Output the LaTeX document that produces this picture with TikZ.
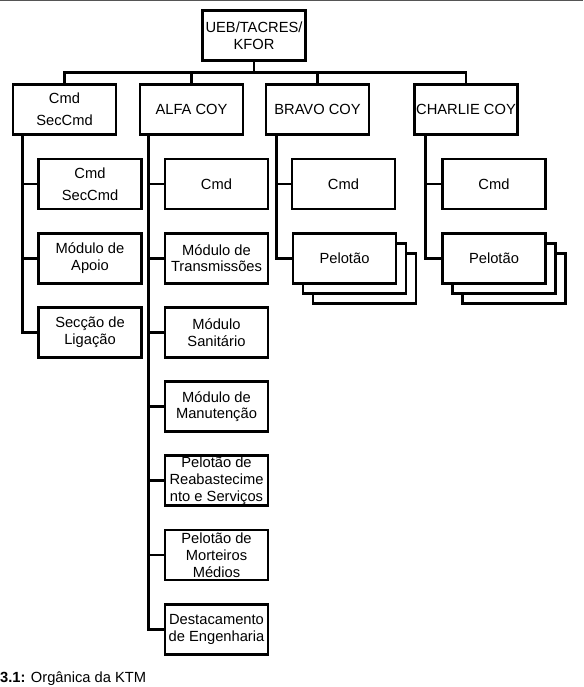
\documentclass[tikz,border=0pt]{standalone}
\usepackage{fontspec}
\setmainfont{Liberation Sans}
\usetikzlibrary{positioning}
\definecolor{RuleGray}{HTML}{555555}
\tikzset{
  ubox/.style={rectangle,draw=black,fill=white,line width=2.8pt,
               minimum width=103pt,minimum height=50pt,inner sep=1pt,
               align=center,font=\fontsize{14.7}{16.8}\selectfont},
  link/.style={line width=2.8pt,color=black},
}

\begin{document}
\begin{tikzpicture}[x=1pt,y=-1pt]

  \useasboundingbox (0,0) rectangle (583,687);
  \draw[RuleGray,line width=1.2pt] (0,0.6) -- (583,0.6);

  \node[ubox] (kfor) at (254,35.5){UEB/TACRES/\\KFOR};

  \node[ubox] (sec)     at (64.5,109.5){Cmd\\[5pt]SecCmd};
  \node[ubox] (alfa)    at (191.5,109.5){ALFA COY};
  \node[ubox] (bravo)   at (317.5,109.5){BRAVO COY};
  \node[ubox] (charlie) at (466,109.5){CHARLIE COY};

  \node[ubox] (scmd)  at (90,184){Cmd\\[5pt]SecCmd};
  \node[ubox] (sapo)  at (90,258.2){Módulo de\\Apoio};
  \node[ubox] (slig)  at (90,332.4){Secção de\\Ligação};

  \node[ubox] (acmd)  at (216.5,184){Cmd};
  \node[ubox] (atrm)  at (216.5,258.2){Módulo de\\Transmissões};
  \node[ubox] (asan)  at (216.5,332.4){Módulo\\Sanitário};
  \node[ubox] (aman)  at (216.5,406.6){Módulo de\\Manutenção};
  \node[ubox] (areab) at (216.5,480.8){Pelotão de\\Reabastecime\\nto e Serviços};
  \node[ubox] (amort) at (216.5,555){Pelotão de\\Morteiros\\Médios};
  \node[ubox] (aeng)  at (216.5,629.2){Destacamento\\de Engenharia};

  \node[ubox] (bcmd)  at (343.5,184){Cmd};
  \node[ubox] (bpelc) at (364.5,278.2){};
  \node[ubox] (bpelb) at (354.5,268.2){};
  \node[ubox] (bpel)  at (344.5,258.2){Pelotão};

  \node[ubox] (ccmd)  at (494,184){Cmd};
  \node[ubox] (cpelc) at (514,278.2){};
  \node[ubox] (cpelb) at (504,268.2){};
  \node[ubox] (cpel)  at (494,258.2){Pelotão};

  \coordinate (bus) at (254,72.5);
  \draw[link] (kfor.south) -- (bus);
  \draw[link] (bus) -| (sec.north);
  \draw[link] (bus) -| (alfa.north);
  \draw[link] (bus) -| (bravo.north);
  \draw[link] (bus) -| (charlie.north);

  \draw[link] ([xshift=11pt]sec.south west) |- (scmd.west);
  \draw[link] ([xshift=11pt]sec.south west) |- (sapo.west);
  \draw[link] ([xshift=11pt]sec.south west) |- (slig.west);

  \draw[link] ([xshift=10pt]alfa.south west) |- (acmd.west);
  \draw[link] ([xshift=10pt]alfa.south west) |- (atrm.west);
  \draw[link] ([xshift=10pt]alfa.south west) |- (asan.west);
  \draw[link] ([xshift=10pt]alfa.south west) |- (aman.west);
  \draw[link] ([xshift=10pt]alfa.south west) |- (areab.west);
  \draw[link] ([xshift=10pt]alfa.south west) |- (amort.west);
  \draw[link] ([xshift=10pt]alfa.south west) |- (aeng.west);

  \draw[link] ([xshift=12pt]bravo.south west) |- (bcmd.west);
  \draw[link] ([xshift=12pt]bravo.south west) |- (bpel.west);

  \draw[link] ([xshift=12pt]charlie.south west) |- (ccmd.west);
  \draw[link] ([xshift=12pt]charlie.south west) |- (cpel.west);

  \node[anchor=base west,inner sep=0,font=\fontsize{14.7}{16}\selectfont]
    (caption) at (0,682.5){\textbf{3.1:} Orgânica da KTM};

\end{tikzpicture}
\end{document}
